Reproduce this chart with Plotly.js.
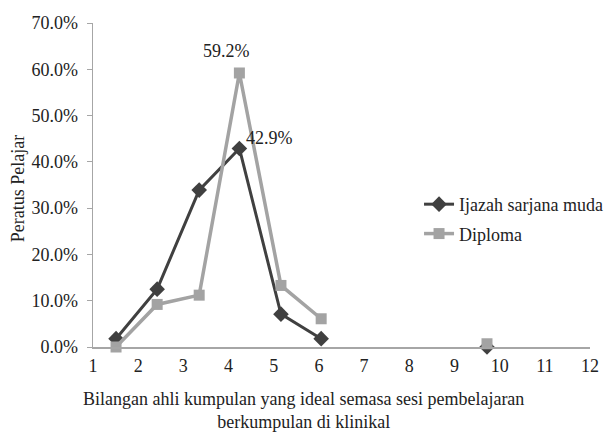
<!DOCTYPE html>
<html>
<head>
<meta charset="utf-8">
<script src="https://cdn.plot.ly/plotly-3.0.1.min.js"></script>
<style>html,body{margin:0;padding:0;background:#fff;}#chart{width:608px;height:436px;}</style>
</head>
<body>
<div id="chart"></div>
<script>
var xPositions = [1.51, 2.42, 3.35, 4.24, 5.16, 6.05, 9.72];
var ijazahValues = [0.018, 0.125, 0.339, 0.429, 0.071, 0.018, 0.0];
var diplomaValues = [0.0, 0.092, 0.112, 0.592, 0.133, 0.061, 0.007];
var seriesNames = ["Ijazah sarjana muda", "Diploma"];
var xTickVals = [1,2,3,4,5,6,7,8,9,10,11,12];
var yTickVals = [0,0.1,0.2,0.3,0.4,0.5,0.6,0.7];

var serif = "'Liberation Serif', 'Times New Roman', serif";
var dark = "#404040", light = "#a3a3a3";

// gap (no connecting line) before the last point
function seg(arr){ return arr.slice(0,6).concat([null]).concat(arr.slice(6)); }
var xs = xPositions.slice(0,6).concat([null]).concat(xPositions.slice(6));

var traces = [
  {x: xs, y: seg(ijazahValues), name: seriesNames[0], mode: "lines+markers", legendgroup:"a", cliponaxis:false,
   line:{color:dark, width:3}, marker:{symbol:"diamond", size:12, color:dark}, connectgaps:false},
  {x: xs, y: seg(diplomaValues), name: seriesNames[1], mode: "lines+markers", legendgroup:"b", cliponaxis:false,
   line:{color:light, width:3.5}, marker:{symbol:"square", size:11, color:light}, connectgaps:false}
];

var layout = {
  width:608, height:436,
  margin:{l:93, r:18, t:23, b:89, autoexpand:false},
  paper_bgcolor:"#fff", plot_bgcolor:"#fff",
  font:{family:serif, size:18, color:"#222"},
  showlegend:true,
  legend:{x:0.656, y:0.497, xanchor:"left", yanchor:"top", traceorder:"grouped", tracegroupgap:3,
          font:{family:serif, size:18, color:"#222"}, bgcolor:"rgba(0,0,0,0)"},
  xaxis:{range:[1,12], tickvals:xTickVals, ticktext:xTickVals.map(String), showgrid:false, zeroline:false,
         showline:true, linecolor:"#a6a6a6", linewidth:1.5, ticks:"", tickfont:{family:serif, size:18},
         ticklabelstandoff:2, automargin:false},
  yaxis:{range:[0,0.7], tickvals:yTickVals, tickformat:".1%", showgrid:false, zeroline:false,
         showline:true, linecolor:"#a6a6a6", linewidth:1.5, ticks:"outside", ticklen:5, tickcolor:"#a6a6a6",
         tickfont:{family:serif, size:18}, ticklabelstandoff:5, automargin:false},
  annotations:[
    {x:xPositions[3], y:diplomaValues[3], xref:"x", yref:"y", text:(diplomaValues[3]*100).toFixed(1)+"%",
     showarrow:false, yshift:22, xshift:-13, font:{family:serif, size:18}},
    {x:xPositions[3], y:ijazahValues[3], xref:"x", yref:"y", text:(ijazahValues[3]*100).toFixed(1)+"%",
     showarrow:false, xanchor:"left", xshift:5, yshift:10, font:{family:serif, size:18}},
    {x:0.4235, y:-0.123, xref:"paper", yref:"paper", xanchor:"center", yanchor:"top", showarrow:false,
     text:"Bilangan ahli kumpulan yang ideal semasa sesi pembelajaran<br>berkumpulan di klinikal", font:{family:serif, size:18}},
    {x:-0.151, y:0.49, xref:"paper", yref:"paper", xanchor:"center", yanchor:"middle", showarrow:false, textangle:-90,
     text:"Peratus Pelajar", font:{family:serif, size:18}}
  ]
};
Plotly.newPlot("chart", traces, layout, {staticPlot:true, displayModeBar:false});
</script>
</body>
</html>
